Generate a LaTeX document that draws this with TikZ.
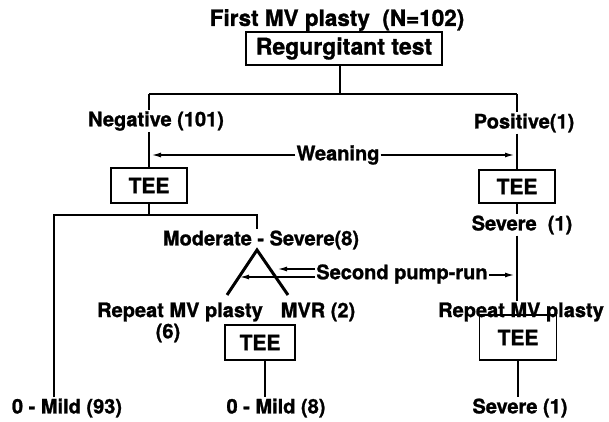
\documentclass[tikz,border=0pt]{standalone}
\usepackage{fontspec}
\setmainfont{TeX Gyre Heros}[BoldFeatures={FakeBold=1.2}]
\usetikzlibrary{arrows.meta}
\begin{document}
\begin{tikzpicture}[x=1pt,y=-1pt,
 lab/.style={font=\fontsize{20}{22}\selectfont\bfseries, inner sep=1pt},
 box/.style={draw, line width=1.3pt, font=\fontsize{21}{23}\selectfont\bfseries, minimum width=76pt, minimum height=34pt, inner sep=0pt},
 conn/.style={line width=2.2pt},
 vee/.style={line width=3pt},
 arr/.style={line width=1.2pt, -{Latex[length=9pt,width=5pt]}},
 ]
\useasboundingbox (0,0) rectangle (609,422);
\fill[white] (0,0) rectangle (609,422);
% texts and boxes
\node[lab, font=\fontsize{22.5}{24}\selectfont\bfseries] (title) at (337,20) {First MV plasty\ \ (N=102)};
\node[box, font=\fontsize{23}{25}\selectfont\bfseries, minimum width=196pt, minimum height=33pt] (reg) at (344,48.5) {Regurgitant test};
\node[lab] (neg) at (156,121) {Negative (101)};
\node[lab] (pos) at (524,123) {Positive(1)};
\node[lab] (wean) at (338,155) {Weaning};
\node[box, minimum height=35pt] (teeL) at (149,185.5) {TEE};
\node[box, minimum height=33pt] (teeR) at (517,186.5) {TEE};
\node[lab] (sevR) at (522,225) {Severe\ \ (1)};
\node[lab] (modsev) at (261,240) {Moderate - Severe(8)};
\node[lab] (pump) at (402,274) {Second pump-run};
\node[lab] (repM) at (180,312) {Repeat MV plasty};
\node[lab] (six) at (168,333) {(6)};
\node[lab] (mvr) at (318,312) {MVR (2)};
\node[lab] (repR) at (521,312) {Repeat MV plasty};
\node[box, minimum width=70pt, minimum height=35pt] (teeM) at (260,342.5) {TEE};
\node[box, minimum width=77pt, minimum height=45pt] (teeR2) at (518,337.5) {TEE};
\node[lab] (mild93) at (67,408) {0 - Mild (93)};
\node[lab] (mild8) at (276,408) {0 - Mild (8)};
\node[lab] (sevR2) at (520,408) {Severe (1)};
% coordinates
\coordinate (jtop) at (340,94);
\coordinate (nl) at (149,94);
\coordinate (nr) at (517,94);
\coordinate (wl) at (152,155);
\coordinate (wr) at (514,155);
\coordinate (bl) at (54,215);
\coordinate (br) at (257,215);
\coordinate (apex) at (257,250);
\coordinate (vl) at (227,295);
\coordinate (vr) at (288,295);
\coordinate (pa1) at (278,269);
\coordinate (pa2) at (240,277);
\coordinate (pa3) at (514,275);
\coordinate (mv) at (265,360);
% connectors
\draw[conn] (reg.south -| jtop) -- (jtop);
\draw[conn] (nl) -- (nr);
\draw[conn] (nl) -- (nl |- neg.north);
\draw[conn] (nl |- neg.south) -- (teeL.north);
\draw[conn] (nr) -- (nr |- pos.north);
\draw[conn] (nr |- pos.south) -- (teeR.north);
\draw[arr] (wean.west) -- (wl);
\draw[arr] (wean.east) -- (wr);
\draw[conn] (teeL.south) -- (teeL.south |- bl);
\draw[conn] (bl |- mild93.north) -- (bl) -- (br) -- (br |- modsev.north);
\draw[vee] (vl) -- (apex) -- (vr);
\draw[arr] (pump.west |- pa1) -- (pa1);
\draw[arr] (pump.west |- pa2) -- (pa2);
\draw[arr] (pump.east |- pa3) -- (pa3);
\draw[conn] (teeR.south) -- (teeR.south |- sevR.north);
\draw[conn] (teeR.south |- sevR.south) -- (teeR.south |- repR.north);
\draw[conn] (mv) -- (mv |- mild8.north);
\draw[conn] (teeR2.south) -- (teeR2.south |- sevR2.north);
\end{tikzpicture}
\end{document}
